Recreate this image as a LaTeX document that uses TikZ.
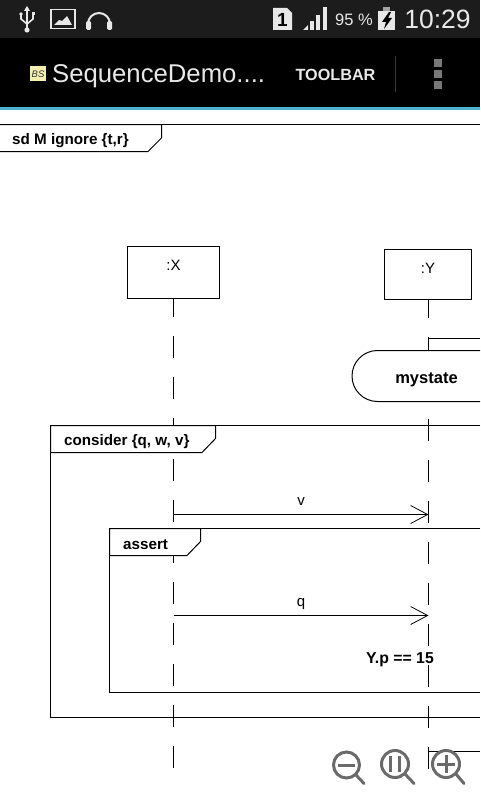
\documentclass[tikz,border=0pt]{standalone}
\usepackage{fontspec}
\setmainfont{Liberation Sans}
\usepackage{xcolor}
\usetikzlibrary{arrows.meta}
\definecolor{statusbg}{HTML}{1C1C1C}
\definecolor{barblue}{HTML}{4DB2D0}
\definecolor{iconlight}{HTML}{E8E8E8}
\definecolor{zoomgray}{HTML}{6A6A6A}
\definecolor{bspale}{HTML}{F3EFB0}
\tikzset{
    umlline/.style={line width=1pt,black},
    lifeline/.style={umlline,dash pattern=on 22pt off 19pt,dash phase=4pt},
    message/.style={umlline,-{Straight Barb[length=17pt,width=18pt,line width=0.8pt]},shorten >=0pt},
    tagtext/.style={inner sep=0pt,font=\fontsize{15.2}{16}\selectfont\bfseries,anchor=west},
    umltext/.style={inner sep=0pt,font=\fontsize{15}{16}\selectfont},
    zoomicon/.style={draw=zoomgray,line width=3pt,line cap=round},
    statustext/.style={inner sep=0pt,text=iconlight},
}
\begin{document}
\begin{tikzpicture}[x=1pt,y=-1pt]
        \useasboundingbox (0,0) rectangle (480,800);
        \fill[white] (0,0) rectangle (480,800);

        \fill[statusbg] (0,0) rectangle (480,38);
        \fill[black] (0,38) rectangle (480,107);
        \fill[barblue] (0,107) rectangle (480,110);

        \draw[iconlight,line width=1.6pt] (27,8) -- (27,30);
        \fill[iconlight] (27,6) -- (30,11) -- (24,11) -- cycle;
        \fill[iconlight] (27,30) circle (2.6);
        \draw[iconlight,line width=1.6pt] (21,15) -- (21,19) -- (27,24) -- (33,19) -- (33,15);
        \fill[iconlight] (21,14) circle (1.8);
        \fill[iconlight] (31.5,12.5) rectangle (34.5,15.5);

        \draw[iconlight,line width=1.6pt] (51,9.5) rectangle (75,28.5);
        \fill[iconlight] (54,25) -- (59,20) -- (62,21) -- (67,16) -- (72,25) -- cycle;

        \draw[iconlight,line width=2pt] (88,24) arc (180:360:11);
        \fill[iconlight,rounded corners=1.5pt] (86,21) rectangle (91,30);
        \fill[iconlight,rounded corners=1.5pt] (107,21) rectangle (112,30);

        \fill[iconlight] (273,8) -- (287,8) -- (292,13) -- (292,30) -- (273,30) -- cycle;
        \node[inner sep=0pt,text=black,font=\fontsize{19}{20}\selectfont\bfseries] (simlabel) at (282.5,19.5) {1};

        \fill[iconlight] (303,30) -- (308,25) -- (308,30) -- cycle;
        \fill[iconlight] (310,30) rectangle (313.5,21.5);
        \fill[iconlight] (316,30) rectangle (320,15);
        \fill[iconlight] (323,30) rectangle (327,7);

        \node[statustext,font=\fontsize{16.5}{18}\selectfont] (battlabel) at (354,20) {95 \%};
        \fill[iconlight] (378,11) rectangle (395,30);
        \fill[iconlight!70!black] (383,7) rectangle (390,11);
        \fill[black] (389,12) -- (382,22) -- (386,22) -- (384,29) -- (392,18) -- (388,18) -- (391,12) -- cycle;
        \node[statustext,font=\fontsize{26.5}{30}\selectfont] (clocklabel) at (437.5,19.5) {10:29};

        \fill[bspale] (30,66) rectangle (46,81);
        \node[inner sep=0pt,text=black!80,font=\fontsize{9.5}{10}\selectfont\rmfamily\itshape] (bslabel) at (38,74) {BS};
        \node[statustext,anchor=west,font=\fontsize{25.7}{30}\selectfont] (titlelabel) at (52,76) {SequenceDemo....};
        \node[statustext,font=\fontsize{16.2}{18}\selectfont\bfseries] (toollabel) at (335.5,75) {TOOLBAR};
        \draw[white!22!black] (395.5,56) -- (395.5,92);
        \fill[white!47!black] (434,59) rectangle (442,67);
        \fill[white!47!black] (434,70) rectangle (442,78);
        \fill[white!47!black] (434,81) rectangle (442,89);

        \node[draw,umlline,minimum width=92pt,minimum height=52pt,inner sep=0pt] (objX) at (173.5,272.5) {};
        \node[umltext] (labelX) at (173.5,265) {:X};
        \node[draw,umlline,minimum width=87pt,minimum height=50pt,inner sep=0pt] (objY) at (428,274.5) {};
        \node[umltext] (labelY) at (428,268) {:Y};

        \coordinate (endX) at (173.5,768);
        \coordinate (endY) at (428.5,769);
        \draw[lifeline] (173.5,298.5) -- (endX);
        \draw[lifeline] (428.5,299.5) -- (endY);

        \draw[umlline] (428.5,338.5) -- (480,338.5);
        \draw[umlline,fill=white] (480,350.5) -- (377.5,350.5) arc (270:90:25.5) -- (480,401.5);
        \node[tagtext,anchor=center,font=\fontsize{16.5}{18}\selectfont\bfseries] (mystate) at (426.5,379.5) {mystate};

        \draw[umlline] (0,124.5) -- (480,124.5);
        \draw[umlline,fill=white] (0,124.5) -- (161.5,124.5) -- (161.5,138) -- (148,151.5) -- (0,151.5);
        \node[tagtext] (tagM) at (12,140.5) {sd M ignore \{t,r\}};

        \draw[umlline] (480,425.5) -- (50.5,425.5) -- (50.5,717.5) -- (480,717.5);
        \draw[umlline,fill=white] (50.5,425.5) -- (215.5,425.5) -- (215.5,438.5) -- (202,452.5) -- (50.5,452.5) -- cycle;
        \node[tagtext] (tagconsider) at (64,441.5) {consider \{q, w, v\}};

        \draw[umlline] (480,528.5) -- (109.5,528.5) -- (109.5,692.5) -- (480,692.5);
        \draw[umlline,fill=white] (109.5,528.5) -- (200.5,528.5) -- (200.5,541.5) -- (187,555.5) -- (109.5,555.5) -- cycle;
        \node[tagtext] (tagassert) at (123,545) {assert};

        \coordinate (vstart) at (173.5,514.5);
        \coordinate (vend) at (428.5,514.5);
        \draw[message] (vstart) -- node[umltext,above=9pt] (labelv) {v} (vend);
        \coordinate (qstart) at (173.5,615.5);
        \coordinate (qend) at (428.5,615.5);
        \draw[message] (qstart) -- node[umltext,above=5pt] (labelq) {q} (qend);
        \node[tagtext,anchor=center,font=\fontsize{15.8}{16}\selectfont\bfseries] (guard) at (400,660) {Y.p == 15};

        \draw[umlline] (428.5,751.5) -- (480,751.5);

        \draw[zoomicon] (346.5,765) circle (13);
        \draw[zoomicon] (356,775) -- (364,783.5);
        \draw[zoomicon,line cap=butt] (338,765) -- (355,765);
        \draw[zoomicon] (395,764) circle (13.5);
        \draw[zoomicon] (405,774) -- (414,783.5);
        \draw[zoomicon,line cap=butt] (390.5,756) -- (390.5,772);
        \draw[zoomicon,line cap=butt] (399.5,756) -- (399.5,772);
        \draw[zoomicon] (446,764) circle (13.5);
        \draw[zoomicon] (456,774) -- (464,783.5);
        \draw[zoomicon,line cap=butt] (437,764) -- (455,764);
        \draw[zoomicon,line cap=butt] (446,755) -- (446,773);
    \end{tikzpicture}
\end{document}
